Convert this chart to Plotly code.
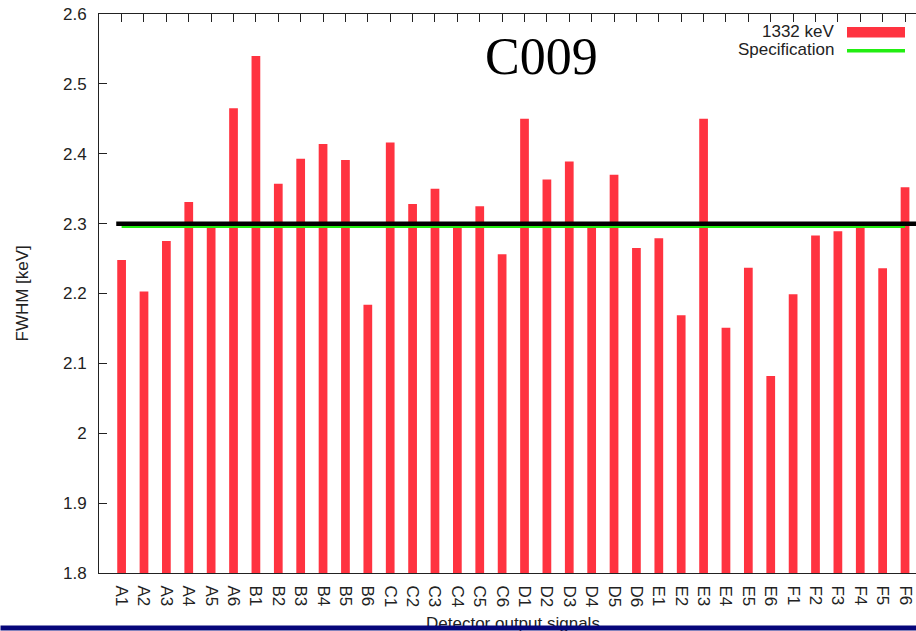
import plotly.graph_objects as go

# ---- data ----
channels = ["A1", "A2", "A3", "A4", "A5", "A6",
            "B1", "B2", "B3", "B4", "B5", "B6",
            "C1", "C2", "C3", "C4", "C5", "C6",
            "D1", "D2", "D3", "D4", "D5", "D6",
            "E1", "E2", "E3", "E4", "E5", "E6",
            "F1", "F2", "F3", "F4", "F5", "F6"]
fwhm_1332 = [2.248, 2.203, 2.275, 2.331, 2.297, 2.465,
             2.540, 2.357, 2.393, 2.414, 2.391, 2.184,
             2.416, 2.328, 2.350, 2.296, 2.325, 2.256,
             2.450, 2.363, 2.389, 2.295, 2.370, 2.265,
             2.279, 2.169, 2.450, 2.151, 2.237, 2.082,
             2.199, 2.283, 2.289, 2.296, 2.236, 2.352]
spec_value = 2.296
reference_value = 2.30
y_ticks = [1.8, 1.9, 2.0, 2.1, 2.2, 2.3, 2.4, 2.5, 2.6]

RED = "#ff3340"
GREEN = "#22ee11"
AX = "#222222"
SANS = "Liberation Sans, Arial, Helvetica, sans-serif"
SERIF = "Liberation Serif, Times New Roman, serif"

W, H = 916, 631
L, R, T, B = 99, 0, 14, 58
PW, PH = W - L - R, H - T - B


def px(xp):
    return (xp - L) / PW


def py(yp):
    return (H - B - yp) / PH


fig = go.Figure()
fig.add_trace(go.Bar(x=channels, y=fwhm_1332, name="1332 keV",
                     marker=dict(color=RED, line=dict(width=0)),
                     width=0.39, showlegend=False))
fig.add_trace(go.Scatter(x=[channels[0], channels[-1]], y=[spec_value, spec_value],
                         mode="lines", name="Specification",
                         line=dict(color=GREEN, width=3), showlegend=False))

shapes = [
    # black reference line
    dict(type="line", xref="x", yref="y", x0=-0.24, x1=40,
         y0=reference_value, y1=reference_value,
         line=dict(color="black", width=4.5), layer="above"),
    # legend swatches
    dict(type="rect", xref="paper", yref="paper",
         x0=px(847), x1=px(905), y0=py(37.5), y1=py(27),
         fillcolor=RED, line=dict(width=0)),
    dict(type="line", xref="paper", yref="paper",
         x0=px(847), x1=px(905), y0=py(50.7), y1=py(50.7),
         line=dict(color=GREEN, width=3.5)),
]

annotations = [
    dict(text="1332 keV", xref="paper", yref="paper", x=px(836), y=py(32),
         xanchor="right", yanchor="middle", showarrow=False,
         font=dict(family=SANS, size=17, color=AX)),
    dict(text="Specification", xref="paper", yref="paper", x=px(836), y=py(50),
         xanchor="right", yanchor="middle", showarrow=False,
         font=dict(family=SANS, size=17, color=AX)),
    dict(text="C009", xref="paper", yref="paper", x=px(541), y=py(56),
         xanchor="center", yanchor="middle", showarrow=False,
         font=dict(family=SERIF, size=52, color="black")),
    dict(text="FWHM [keV]", xref="paper", yref="paper", x=px(22), y=0.5,
         xanchor="center", yanchor="middle", showarrow=False, textangle=-90,
         font=dict(family=SANS, size=17, color=AX)),
    dict(text="Detector output signals", xref="paper", yref="paper", x=px(513), y=py(623),
         xanchor="center", yanchor="middle", showarrow=False,
         font=dict(family=SANS, size=17, color=AX)),
    # navy band along the bottom edge (drawn over the axis title)
    dict(text=" ", xref="paper", yref="paper", x=px(0), y=py(631),
         xanchor="left", yanchor="bottom", showarrow=False,
         width=W, height=4, bgcolor="#06067a", borderpad=0,
         font=dict(size=1)),
]

fig.update_layout(
    width=W, height=H,
    margin=dict(l=L, r=R, t=T, b=B, pad=0),
    paper_bgcolor="white", plot_bgcolor="white",
    showlegend=False,
    shapes=shapes,
    annotations=annotations,
    xaxis=dict(type="category", range=[-1.01, 35.49],
               tickmode="array", tickvals=channels, ticktext=channels,
               showline=True, linecolor=AX, linewidth=1, mirror="ticks",
               ticks="inside", ticklen=8, tickcolor=AX, tickwidth=1,
               tickangle=90, ticklabelstandoff=8,
               tickfont=dict(family=SANS, size=17, color=AX),
               showgrid=False, zeroline=False, layer="below traces"),
    yaxis=dict(range=[1.8, 2.6], tickvals=y_ticks,
               ticktext=[f"{v:g}" for v in y_ticks],
               showline=True, linecolor=AX, linewidth=1, mirror=False,
               ticks="inside", ticklen=8, tickcolor=AX, tickwidth=1,
               ticklabelstandoff=8,
               tickfont=dict(family=SANS, size=17, color=AX),
               showgrid=False, zeroline=False),
)

fig.write_html("out.html")
